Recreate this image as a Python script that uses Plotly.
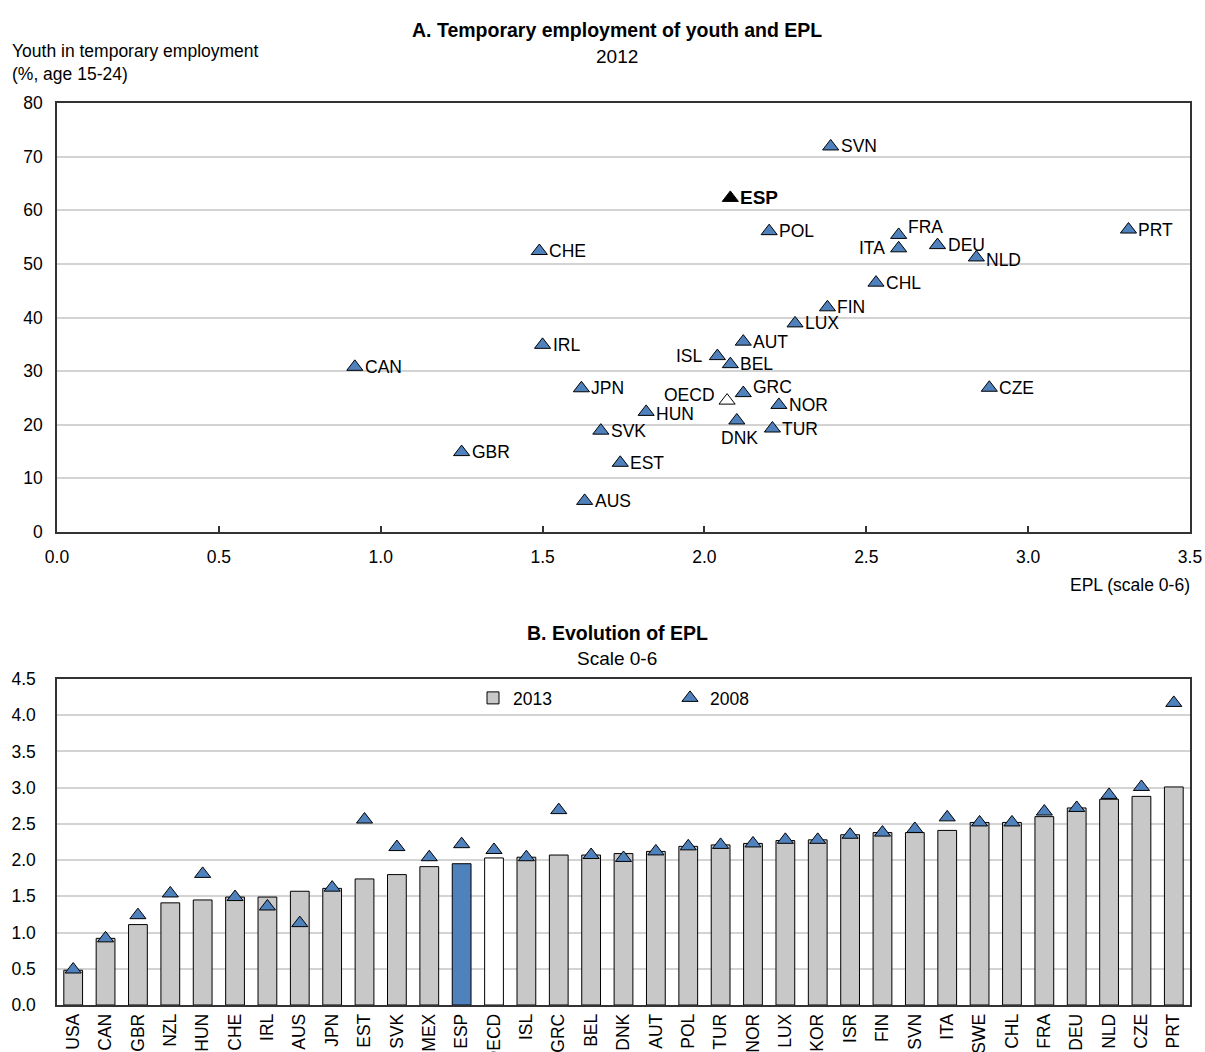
import plotly.graph_objects as go

W, H = 1205, 1052

# ---- Panel A: youth temporary employment vs EPL (2012) ----
countries_a = ["CAN", "GBR", "CHE", "IRL", "JPN", "AUS", "SVK", "EST", "HUN", "ISL",
               "OECD", "BEL", "ESP", "DNK", "AUT", "GRC", "POL", "TUR", "NOR", "LUX",
               "FIN", "SVN", "CHL", "ITA", "FRA", "DEU", "NLD", "CZE", "PRT"]
epl_2012 = [0.92, 1.25, 1.49, 1.50, 1.62, 1.63, 1.68, 1.74, 1.82, 2.04,
            2.07, 2.08, 2.08, 2.10, 2.12, 2.12, 2.20, 2.21, 2.23, 2.28,
            2.38, 2.39, 2.53, 2.60, 2.60, 2.72, 2.84, 2.88, 3.31]
youth_temp_2012 = [30.8, 14.9, 52.4, 34.9, 26.8, 5.8, 18.9, 12.9, 22.4, 32.8,
                   24.5, 31.3, 62.3, 20.8, 35.5, 25.9, 56.1, 19.3, 23.7, 38.9,
                   41.9, 71.9, 46.5, 52.9, 55.4, 53.5, 51.2, 26.9, 56.4]
x_ticks_a = [0.0, 0.5, 1.0, 1.5, 2.0, 2.5, 3.0, 3.5]
y_ticks_a = [0, 10, 20, 30, 40, 50, 60, 70, 80]

# ---- Panel B: evolution of EPL ----
countries_b = ["USA", "CAN", "GBR", "NZL", "HUN", "CHE", "IRL", "AUS", "JPN", "EST",
               "SVK", "MEX", "ESP", "OECD", "ISL", "GRC", "BEL", "DNK", "AUT", "POL",
               "TUR", "NOR", "LUX", "KOR", "ISR", "FIN", "SVN", "ITA", "SWE", "CHL",
               "FRA", "DEU", "NLD", "CZE", "PRT"]
epl_2013 = [0.48, 0.92, 1.11, 1.41, 1.45, 1.49, 1.49, 1.57, 1.61, 1.74,
            1.80, 1.91, 1.95, 2.03, 2.04, 2.07, 2.07, 2.09, 2.12, 2.19,
            2.21, 2.23, 2.27, 2.28, 2.35, 2.38, 2.38, 2.41, 2.52, 2.52,
            2.60, 2.72, 2.84, 2.88, 3.01]
epl_2008 = [0.49, 0.92, 1.24, 1.54, 1.81, 1.49, 1.36, 1.13, 1.62, 2.56,
            2.18, 2.04, 2.22, 2.14, 2.04, 2.69, 2.07, 2.03, 2.12, 2.19,
            2.21, 2.23, 2.28, 2.28, 2.35, 2.38, 2.43, 2.59, 2.52, 2.52,
            2.67, 2.72, 2.90, 3.01, 4.17]
y_ticks_b = [0.0, 0.5, 1.0, 1.5, 2.0, 2.5, 3.0, 3.5, 4.0, 4.5]

# ---- styling ----
FONT = "Liberation Sans, Arial, sans-serif"
FS = 17.5          # body text
FS_TITLE = 19.5    # panel titles
FS_SUB = 19        # panel subtitles
BLUE = "#4F81BD"
GREY = "#C8C8C8"
GRID = "#D3D3D3"
FRAME = "#333333"
MSIZE = 14

X0, X1 = 57, 1190          # plot area left/right (px)
A_TOP, A_BOT = 103, 532    # panel A plot area top/bottom (px)
B_TOP, B_BOT = 679, 1005   # panel B plot area top/bottom (px)


def px(p):
    return p / W


def py(p):
    return (H - p) / H


fig = go.Figure()


def pick(idx):
    return [epl_2012[i] for i in idx], [youth_temp_2012[i] for i in idx]


idx_regular = [i for i, c in enumerate(countries_a) if c not in ("ESP", "OECD")]
idx_oecd = [i for i, c in enumerate(countries_a) if c == "OECD"]
idx_esp = [i for i, c in enumerate(countries_a) if c == "ESP"]

for idx, fill in ((idx_regular, BLUE), (idx_oecd, "white"), (idx_esp, "black")):
    xs, ys = pick(idx)
    fig.add_trace(go.Scatter(
        x=xs, y=ys, mode="markers", xaxis="x", yaxis="y", showlegend=False,
        marker=dict(symbol="triangle-up", size=MSIZE, color=fill,
                    line=dict(color="black", width=1)),
        hoverinfo="skip"))

# point labels: default to the right of the marker
label_place = {
    "ISL": dict(xanchor="right", xshift=-13, yshift=0),
    "ITA": dict(xanchor="right", xshift=-13, yshift=0),
    "OECD": dict(xanchor="right", xshift=-11, yshift=6),
    "HUN": dict(xanchor="left", xshift=9, yshift=-2),
    "DNK": dict(xanchor="center", xshift=3, yshift=-18),
    "FRA": dict(xanchor="left", xshift=8, yshift=8),
    "GRC": dict(xanchor="left", xshift=9, yshift=6),
    "NLD": dict(xanchor="left", xshift=9, yshift=-3),
}
for c, xv, yv in zip(countries_a, epl_2012, youth_temp_2012):
    place = label_place.get(c, dict(xanchor="left", xshift=9, yshift=0))
    text = "<b>%s</b>" % c if c == "ESP" else c
    fig.add_annotation(x=xv, y=yv, xref="x", yref="y", text=text, showarrow=False,
                       yanchor="middle", borderpad=0,
                       font=dict(size=19 if c == "ESP" else FS, color="black"),
                       **place)

# panel B bars and 2008 markers
bar_colors = [BLUE if c == "ESP" else ("white" if c == "OECD" else GREY) for c in countries_b]
fig.add_trace(go.Bar(
    x=countries_b, y=epl_2013, xaxis="x2", yaxis="y2", name="2013", legend="legend",
    marker=dict(color=bar_colors, line=dict(color="black", width=1)),
    width=0.58, hoverinfo="skip"))
fig.add_trace(go.Scatter(
    x=countries_b, y=epl_2008, xaxis="x2", yaxis="y2", name="2008", legend="legend2",
    mode="markers",
    marker=dict(symbol="triangle-up", size=MSIZE, color=BLUE, line=dict(color="black", width=1)),
    hoverinfo="skip"))

axis_common = dict(showline=True, mirror=True, linecolor=FRAME, linewidth=1.5,
                   zeroline=False, automargin=False,
                   tickfont=dict(size=FS, color="black"))

fig.update_layout(
    width=W, height=H, autosize=False,
    margin=dict(l=0, r=0, t=0, b=0),
    paper_bgcolor="white", plot_bgcolor="white",
    font=dict(family=FONT, size=FS, color="black"),
    xaxis=dict(domain=[px(X0), px(X1)], anchor="y", range=[0, 3.5],
               tickvals=x_ticks_a, tickformat=".1f", ticks="inside", ticklen=6,
               tickcolor=FRAME, tickwidth=1.5, showgrid=False, ticklabelstandoff=8,
               **axis_common),
    yaxis=dict(domain=[py(A_BOT), py(A_TOP)], anchor="x", range=[0, 80],
               tickvals=y_ticks_a, showgrid=True, gridcolor=GRID, gridwidth=1.5,
               ticks="", ticklabelstandoff=9, **axis_common),
    xaxis2=dict(domain=[px(X0), px(X1)], anchor="y2", type="category",
                range=[-0.5, len(countries_b) - 0.5], tickangle=-90, ticks="",
                showgrid=False, ticklabelstandoff=0, **axis_common),
    yaxis2=dict(domain=[py(B_BOT), py(B_TOP)], anchor="x2", range=[0, 4.5],
                tickvals=y_ticks_b, tickformat=".1f", showgrid=True, gridcolor=GRID,
                gridwidth=1.5, ticks="", ticklabelstandoff=16, **axis_common),
    legend=dict(x=px(473), y=py(698), xanchor="left", yanchor="middle",
                orientation="h", bgcolor="rgba(0,0,0,0)", font=dict(size=FS),
                itemwidth=30),
    legend2=dict(x=px(670), y=py(698), xanchor="left", yanchor="middle",
                 orientation="h", bgcolor="rgba(0,0,0,0)", font=dict(size=FS),
                 itemwidth=30),
)

# titles and axis captions
texts = [
    ("<b>A. Temporary employment of youth and EPL</b>", 617, 30, FS_TITLE),
    ("2012", 617, 56, FS_SUB),
    ("<b>B. Evolution of EPL</b>", 617, 633, FS_TITLE),
    ("Scale 0-6", 617, 658, FS_SUB),
]
for t, x, y, size in texts:
    fig.add_annotation(x=px(x), y=py(y), xref="paper", yref="paper", text=t,
                       showarrow=False, xanchor="center", yanchor="middle",
                       font=dict(size=size))
fig.add_annotation(x=px(10), y=py(62), xref="paper", yref="paper",
                   text="Youth in temporary employment<br>(%, age 15-24)",
                   showarrow=False, xanchor="left", yanchor="middle", align="left",
                   font=dict(size=FS))
fig.add_annotation(x=px(1192), y=py(585), xref="paper", yref="paper",
                   text="EPL (scale 0-6)", showarrow=False, xanchor="right",
                   yanchor="middle", font=dict(size=FS))

fig.write_html("out.html")
